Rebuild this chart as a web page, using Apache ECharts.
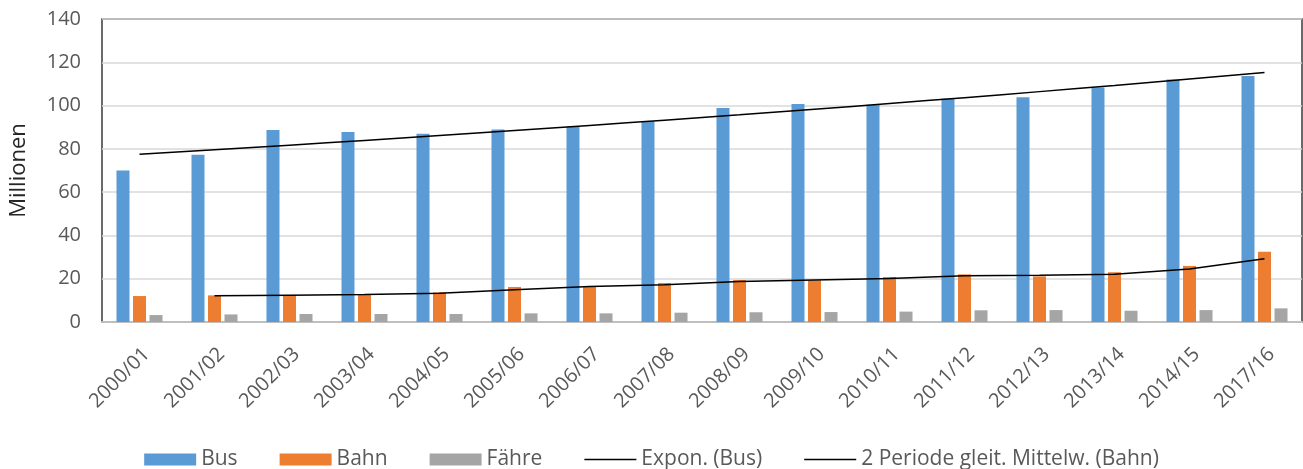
<!DOCTYPE html>
<html lang="de">
<head>
<meta charset="utf-8">
<title>Fahrgäste nach Verkehrsmittel</title>
<script src="https://cdn.jsdelivr.net/npm/echarts@6/dist/echarts.min.js"></script>
<style>
  html, body { margin: 0; padding: 0; background: #fff; }
  #chart { width: 1303px; height: 469px; }
</style>
</head>
<body>
<div id="chart"></div>
<script>
// Fahrgäste pro Jahr in Millionen
const categories = ['2000/01', '2001/02', '2002/03', '2003/04', '2004/05', '2005/06', '2006/07', '2007/08',
                    '2008/09', '2009/10', '2010/11', '2011/12', '2012/13', '2013/14', '2014/15', '2017/16'];
const bus    = [70.0, 77.3, 88.7, 87.8, 87.0, 89.0, 90.3, 92.7, 98.9, 100.7, 100.4, 103.2, 103.8, 108.3, 112.1, 113.7];
const bahn   = [12.0, 12.3, 12.5, 12.9, 13.7, 16.2, 16.5, 18.0, 19.4, 19.3, 20.8, 22.0, 21.1, 23.0, 25.9, 32.5];
const faehre = [3.2, 3.5, 3.7, 3.7, 3.7, 4.0, 4.0, 4.3, 4.5, 4.6, 4.8, 5.4, 5.5, 5.2, 5.5, 6.3];

const seriesNames = ['Bus', 'Bahn', 'Fähre', 'Expon. (Bus)', '2 Periode gleit. Mittelw. (Bahn)'];
const yAxisName = 'Millionen';
const yMin = 0, yMax = 140, yStep = 20;

// Exponentielle Trendlinie: Kleinste-Quadrate-Anpassung von ln(y) über den Periodenindex
function exponentialTrend(values) {
  const n = values.length;
  const xs = values.map((_, i) => i + 1);
  const ls = values.map(v => Math.log(v));
  const mx = xs.reduce((a, b) => a + b, 0) / n;
  const ml = ls.reduce((a, b) => a + b, 0) / n;
  let sxy = 0, sxx = 0;
  for (let i = 0; i < n; i++) {
    sxy += (xs[i] - mx) * (ls[i] - ml);
    sxx += (xs[i] - mx) * (xs[i] - mx);
  }
  const b = sxy / sxx;
  const a = ml - b * mx;
  return xs.map(x => +Math.exp(a + b * x).toFixed(3));
}

// Gleitender Durchschnitt über 2 Perioden
function movingAverage(values, period) {
  return values.map((_, i) => {
    if (i < period - 1) return '-';
    let s = 0;
    for (let k = 0; k < period; k++) s += values[i - k];
    return +(s / period).toFixed(3);
  });
}

const busTrend = exponentialTrend(bus);
const bahnAvg = movingAverage(bahn, 2);

const FONT = 'Open Sans';
const TEXT = '#595959';

// Legendensymbol für Linien: dünner Strich, Begrenzungspunkte oben/unten halten die Höhe
const LINE_ICON = 'path://M0,0H0.01V0.01H0Z M0,5.25H52V6.75H0Z M0,11.99H0.01V12H0Z';

const chart = echarts.init(document.getElementById('chart'), null, { renderer: 'canvas' });

chart.setOption({
  animation: false,
  backgroundColor: '#ffffff',
  textStyle: { fontFamily: FONT },
  grid: {
    left: 101, right: 1, top: 19, bottom: 147,
    show: true, borderColor: '#3a3a3a', borderWidth: 1.5
  },
  legend: {
    top: 444,
    left: 'center',
    itemWidth: 52,
    itemHeight: 12,
    itemGap: 42,
    textStyle: { color: TEXT, fontSize: 21, fontFamily: FONT },
    data: [
      { name: seriesNames[0], icon: 'rect' },
      { name: seriesNames[1], icon: 'rect' },
      { name: seriesNames[2], icon: 'rect' },
      { name: seriesNames[3], icon: LINE_ICON, itemStyle: { color: '#000000' } },
      { name: seriesNames[4], icon: LINE_ICON, itemStyle: { color: '#000000' } }
    ]
  },
  xAxis: {
    type: 'category',
    data: categories,
    axisTick: { show: false },
    axisLine: { lineStyle: { color: '#bfbfbf', width: 2 } },
    axisLabel: {
      rotate: 45, margin: 22, interval: 0,
      align: 'right', verticalAlign: 'top',
      color: TEXT, fontSize: 20, fontFamily: FONT
    }
  },
  yAxis: {
    type: 'value',
    min: yMin, max: yMax, interval: yStep,
    name: yAxisName,
    nameLocation: 'middle',
    nameGap: 72,
    nameTextStyle: { color: '#262626', fontSize: 22, fontFamily: FONT },
    axisLine: { show: false },
    axisTick: { show: false },
    axisLabel: { color: TEXT, fontSize: 20, fontFamily: FONT, margin: 21 },
    splitLine: { lineStyle: { color: '#d9d9d9', width: 1.5 } }
  },
  series: [
    {
      name: seriesNames[0], type: 'bar', data: bus,
      barWidth: 13, barGap: '27%',
      itemStyle: { color: '#5b9bd5' }
    },
    {
      name: seriesNames[1], type: 'bar', data: bahn,
      barWidth: 13, barGap: '27%',
      itemStyle: { color: '#ed7d31' }
    },
    {
      name: seriesNames[2], type: 'bar', data: faehre,
      barWidth: 13, barGap: '27%',
      itemStyle: { color: '#a5a5a5' }
    },
    {
      name: seriesNames[3], type: 'line', data: busTrend,
      symbol: 'none', smooth: true, z: 5,
      lineStyle: { color: '#000000', width: 1.5 },
      itemStyle: { color: '#000000' }
    },
    {
      name: seriesNames[4], type: 'line', data: bahnAvg,
      symbol: 'none', z: 5,
      lineStyle: { color: '#000000', width: 1.5 },
      itemStyle: { color: '#000000' }
    }
  ]
});
</script>
</body>
</html>
